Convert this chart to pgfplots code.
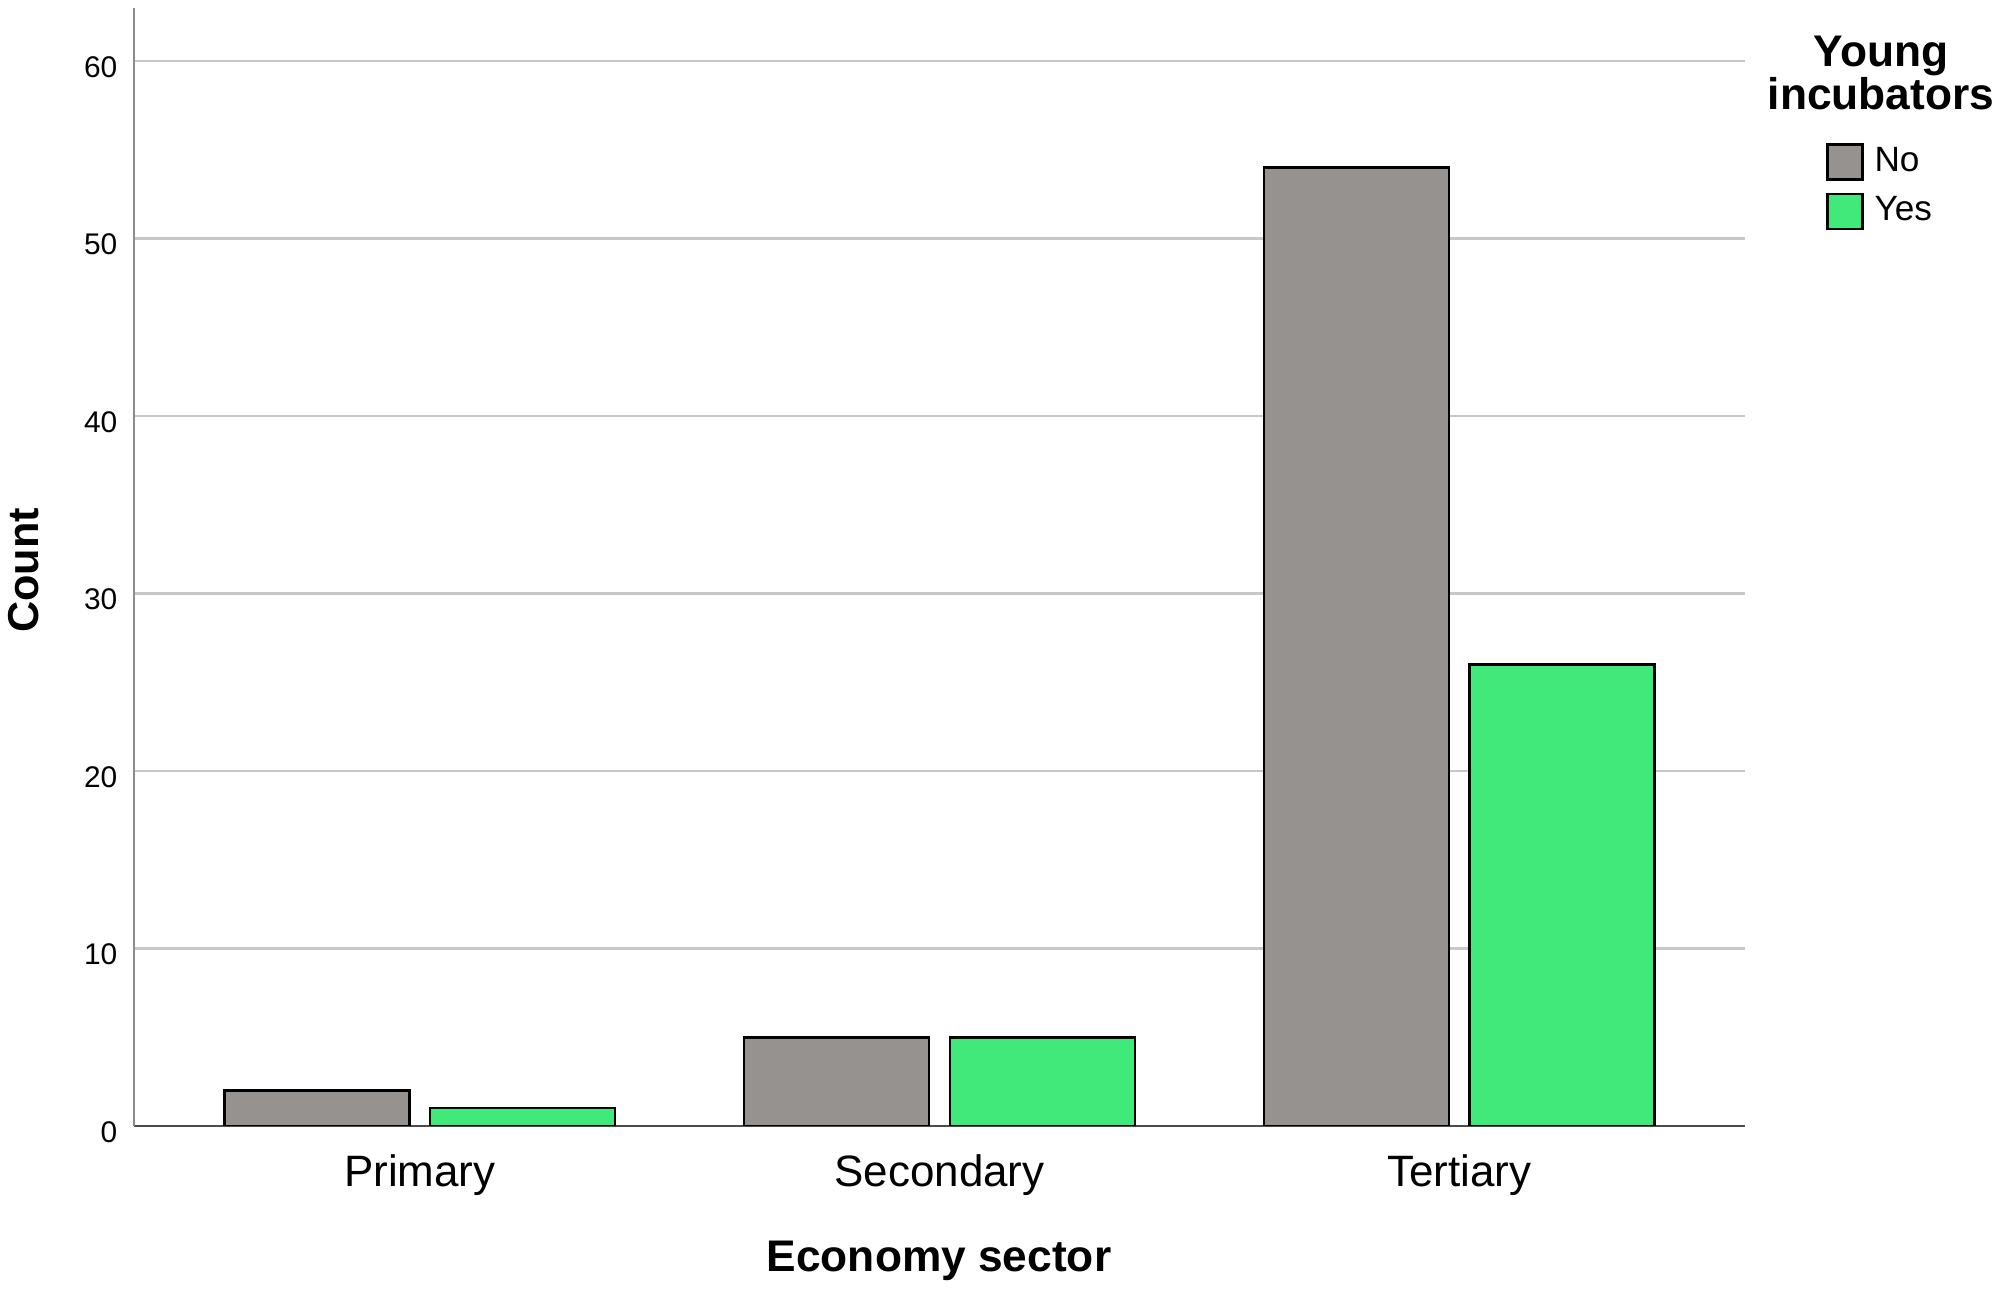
\documentclass[border=0pt]{standalone}
\usepackage{pgfplots}
\pgfplotsset{compat=1.18}
\usepackage{fontspec}
\setmainfont{Liberation Sans}
\definecolor{barNo}{RGB}{150,146,144}
\definecolor{barYes}{RGB}{64,233,122}
\definecolor{gridc}{RGB}{200,200,200}
\begin{document}
\begin{tikzpicture}
\begin{axis}[
  scale only axis,
  width=161.1mm, height=111.8mm,
  xmin=-0.55, xmax=2.55, ymin=0, ymax=63,
  ybar,
  bar width=0.356,
  axis x line*=bottom, axis y line*=left,
  x axis line style={draw=black!70, line width=0.25mm},
  y axis line style={draw=black!45, line width=0.25mm},
  major tick length=0pt,
  tick style={draw=none},
  xtick={0,1,2},
  xticklabels={Primary,Secondary,Tertiary},
  ytick={0,10,20,30,40,50,60},
  ymajorgrids,
  grid style={draw=gridc, line width=0.25mm},
  /pgf/number format/assume math mode=true,
  xticklabel style={anchor=base, yshift=-6.1mm, font=\fontsize{12.5}{14}\selectfont},
  yticklabel style={anchor=east, inner sep=0pt, xshift=-1.6mm, yshift=-0.6mm, font=\fontsize{8.5}{10}\selectfont},
  xlabel={Economy sector},
  ylabel={Count},
  xlabel style={at={(axis description cs:0.4997,0)}, anchor=base, yshift=-14.6mm, font=\bfseries\fontsize{12.6}{14}\selectfont},
  ylabel style={at={(axis description cs:-0.059,0.497)}, rotate=0, anchor=base, font=\bfseries\fontsize{12.3}{14}\selectfont},
  legend image code/.code={\draw[#1, line width=0.25mm] (0mm,-1.75mm) rectangle (3.5mm,1.75mm);},
  legend style={at={(1.0503,0.880)}, anchor=north west, draw=none, fill=none, inner sep=0pt, outer sep=0pt, row sep=1mm, font=\fontsize{10}{12}\selectfont, nodes={inner xsep=1.1mm, inner ysep=0.5mm}},
  legend cell align=left,
]
\addplot[fill=barNo, draw=black, line width=0.25mm, bar shift=-0.198] coordinates {(0,2) (1,5) (2,54)};
\addlegendentry{No}
\addplot[fill=barYes, draw=black, line width=0.25mm, bar shift=0.198] coordinates {(0,1) (1,5) (2,26)};
\addlegendentry{Yes}
\end{axis}
\node[anchor=base, inner sep=0pt, font=\bfseries\fontsize{12.6}{11}\selectfont] at (174.7mm,105.9mm) {Young};
\node[anchor=base, inner sep=0pt, font=\bfseries\fontsize{12.6}{11}\selectfont] at (174.7mm,101.6mm) {incubators};
\pgfresetboundingbox
\path[use as bounding box] (-13.4mm,-16.5mm) rectangle (186.6mm,112.6mm);
\end{tikzpicture}
\end{document}
